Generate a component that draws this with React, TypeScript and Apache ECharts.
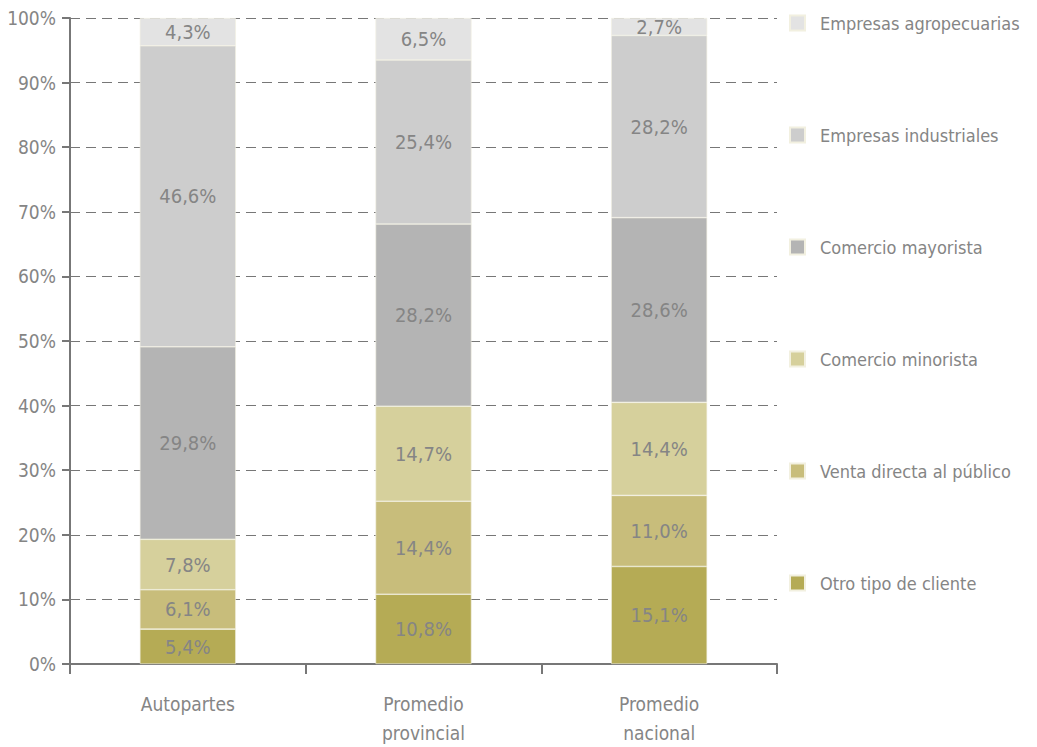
import React, { useEffect, useRef } from "react";
import * as echarts from "echarts";

const categories = ["Autopartes", "Promedio\nprovincial", "Promedio\nnacional"];
const seriesNames = [
  "Otro tipo de cliente",
  "Venta directa al público",
  "Comercio minorista",
  "Comercio mayorista",
  "Empresas industriales",
  "Empresas agropecuarias",
];
const otro = [5.4, 10.8, 15.1];
const venta = [6.1, 14.4, 11.0];
const minorista = [7.8, 14.7, 14.4];
const mayorista = [29.8, 28.2, 28.6];
const industriales = [46.6, 25.4, 28.2];
const agro = [4.3, 6.5, 2.7];
const yTicks = [0, 10, 20, 30, 40, 50, 60, 70, 80, 90, 100];

const colors = ["#b5ab55", "#c8bd7b", "#d6d09c", "#b4b4b4", "#cdcdcd", "#e3e3e3"];
const FONT = "'Liberation Sans Narrow', 'DejaVu Sans Condensed', 'Roboto', sans-serif";
const TXT = "#858585";

export default function App() {
  const ref = useRef<HTMLDivElement>(null);
  useEffect(() => {
    if (!ref.current) return;
    const chart = echarts.init(ref.current, undefined, { renderer: "svg" });
    const all = [otro, venta, minorista, mayorista, industriales, agro];
    chart.setOption({
      animation: false,
      textStyle: { fontFamily: FONT },
      grid: { left: 70, right: 260, top: 18, bottom: 74, containLabel: false },
      legend: {
        orient: "vertical",
        left: 784,
        top: 9,
        itemGap: 94,
        itemWidth: 15,
        itemHeight: 15,
        icon: "rect",
        data: [...seriesNames].reverse(),
        textStyle: { color: TXT, fontSize: 18, fontFamily: FONT, padding: [0, 0, 0, 10] },
      },
      xAxis: {
        type: "category",
        data: categories,
        axisLine: { lineStyle: { color: "#777", width: 2 } },
        axisTick: { show: true, length: 10, lineStyle: { color: "#777", width: 2 } },
        axisLabel: { color: TXT, fontSize: 19, fontFamily: FONT, margin: 25, lineHeight: 29 },
      },
      yAxis: {
        type: "value",
        min: 0,
        max: 100,
        interval: 10,
        axisLine: { show: true, lineStyle: { color: "#777", width: 2 } },
        axisTick: { show: true, length: 8, lineStyle: { color: "#777", width: 2 } },
        axisLabel: {
          color: TXT,
          fontSize: 19,
          fontFamily: FONT,
          margin: 14,
          formatter: (v: number) => (yTicks.includes(v) ? v + "%" : ""),
        },
        splitLine: { lineStyle: { color: "#777", type: [10, 6], width: 1.2 } },
      },
      series: seriesNames.map((name, i) => ({
        name,
        type: "bar",
        stack: "total",
        barWidth: 96,
        data: all[i],
        itemStyle: { color: colors[i], borderColor: "#f2f0e0", borderWidth: 0.6 },
        label: {
          show: true,
          position: "inside",
          color: TXT,
          fontSize: 20,
          fontFamily: FONT,
          formatter: (p: any) => p.value.toFixed(1).replace(".", ",") + "%",
        },
      })),
    });
    return () => chart.dispose();
  }, []);
  return (
    <div
      ref={ref}
      style={{ position: "absolute", left: 0, top: 0, width: 1037, height: 747 }}
    />
  );
}
